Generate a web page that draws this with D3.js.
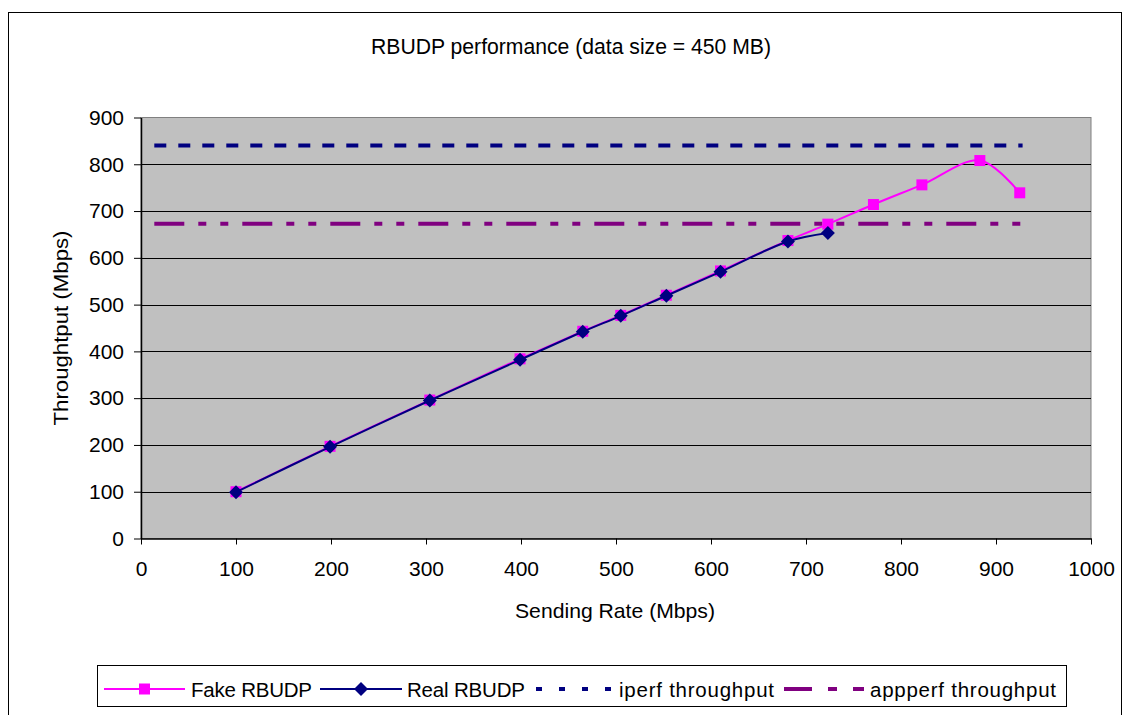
<!DOCTYPE html>
<html>
<head>
<meta charset="utf-8">
<script src="https://cdn.jsdelivr.net/npm/d3@7"></script>
<style>
  html, body { margin: 0; padding: 0; background: #fff; }
  svg { display: block; font-family: "Liberation Sans", Arial, sans-serif; }
</style>
</head>
<body>
<svg id="chart" width="1129" height="715"></svg>
<script>
// Sending rate (Mbps) for each measured run
const fakeRate = [100, 199, 304, 399, 465, 505, 553, 610, 681, 723, 771, 822, 883, 925];
const fakeThroughput = [100, 197, 296, 384, 443, 477, 520, 572, 637, 672, 714, 756, 808, 739];
const realRate = [100, 199, 304, 399, 465, 505, 553, 610, 681, 723];
const realThroughput = [99, 196, 295, 382, 442, 476, 519, 570, 635, 653];
// Reference throughput levels, drawn across the measured range
const refRate = [14, 928];
const iperfThroughput = [840, 840];
const appperfThroughput = [673, 673];

const xTicks = [0, 100, 200, 300, 400, 500, 600, 700, 800, 900, 1000];
const yTicks = [0, 100, 200, 300, 400, 500, 600, 700, 800, 900];

const svg = d3.select("#chart");
const plot = { left: 141, right: 1091, top: 117.5, bottom: 538.5 };
const FS = 21;

const x = d3.scaleLinear().domain([0, 1000]).range([plot.left, plot.right]);
const y = d3.scaleLinear().domain([0, 900]).range([plot.bottom, plot.top]);

// outer chart frame
svg.append("rect").attr("x", 8.5).attr("y", 12.5).attr("width", 1113).attr("height", 720)
  .attr("fill", "#fff").attr("stroke", "#000").attr("stroke-width", 1);

// title
svg.append("text").attr("x", 571).attr("y", 54).attr("text-anchor", "middle")
  .attr("font-size", 21.5).attr("textLength", 400).attr("lengthAdjust", "spacingAndGlyphs")
  .text("RBUDP performance (data size = 450 MB)");

// plot background
svg.append("rect").attr("x", plot.left).attr("y", plot.top)
  .attr("width", plot.right - plot.left).attr("height", plot.bottom - plot.top)
  .attr("fill", "#C0C0C0").attr("stroke", "#808080").attr("stroke-width", 1);

// horizontal gridlines
svg.append("g").selectAll("line").data(yTicks.filter(d => d > 0 && d < 900)).join("line")
  .attr("x1", plot.left).attr("x2", plot.right)
  .attr("y1", d => Math.round(y(d)) + 0.5).attr("y2", d => Math.round(y(d)) + 0.5)
  .attr("stroke", "#000").attr("stroke-width", 1);

// axes
const fmt = d3.format("d");
const xAxis = d3.axisBottom(x).tickValues(xTicks).tickFormat(fmt).tickSize(6).tickPadding(17).tickSizeOuter(0);
const yAxis = d3.axisLeft(y).tickValues(yTicks).tickFormat(fmt).tickSize(7).tickPadding(10).tickSizeOuter(0);

const gx = svg.append("g").attr("transform", `translate(0,${plot.bottom})`).call(xAxis);
const gy = svg.append("g").attr("transform", `translate(${plot.left},0)`).call(yAxis);
[gx, gy].forEach(g => {
  g.attr("font-family", null).attr("font-size", null);
  g.select(".domain").attr("stroke", "#000").attr("stroke-width", 1.5);
  g.selectAll(".tick line").attr("stroke", "#000");
  g.selectAll(".tick text").attr("font-size", FS).attr("fill", "#000");
});

// axis titles
svg.append("text").attr("x", 615).attr("y", 618).attr("text-anchor", "middle")
  .attr("font-size", FS).attr("fill", "#000").attr("textLength", 200).attr("lengthAdjust", "spacingAndGlyphs")
  .text("Sending Rate (Mbps)");
svg.append("text").attr("transform", "translate(68,328) rotate(-90)").attr("text-anchor", "middle")
  .attr("font-size", FS).attr("fill", "#000").attr("textLength", 195).attr("lengthAdjust", "spacingAndGlyphs")
  .text("Throughtput (Mbps)");

// reference levels
const flat = d3.line().x(d => x(d[0])).y(d => y(d[1]));
svg.append("path").datum(d3.zip(refRate, iperfThroughput)).attr("d", flat)
  .attr("fill", "none").attr("stroke", "#000080").attr("stroke-width", 4)
  .attr("stroke-dasharray", "12,12");
svg.append("path").datum(d3.zip(refRate, appperfThroughput)).attr("d", flat)
  .attr("fill", "none").attr("stroke", "#800080").attr("stroke-width", 4)
  .attr("stroke-dasharray", "30,14,8,14,8,14");

// smoothed series lines
const smooth = d3.line().x(d => x(d[0])).y(d => y(d[1])).curve(d3.curveCatmullRom.alpha(0.5));
const fake = d3.zip(fakeRate, fakeThroughput);
const real = d3.zip(realRate, realThroughput);

svg.append("path").datum(fake).attr("d", smooth)
  .attr("fill", "none").attr("stroke", "#FF00FF").attr("stroke-width", 2);
svg.selectAll(".fake-pt").data(fake).join("rect").attr("class", "fake-pt")
  .attr("x", d => x(d[0]) - 5.5).attr("y", d => y(d[1]) - 5.5)
  .attr("width", 11).attr("height", 11).attr("fill", "#FF00FF");

svg.append("path").datum(real).attr("d", smooth)
  .attr("fill", "none").attr("stroke", "#000080").attr("stroke-width", 2);
const diamond = "M0,-7L7,0L0,7L-7,0Z";
svg.selectAll(".real-pt").data(real).join("path").attr("class", "real-pt")
  .attr("transform", d => `translate(${x(d[0])},${y(d[1])})`)
  .attr("d", diamond).attr("fill", "#000080");

// legend
const lg = svg.append("g");
lg.append("rect").attr("x", 97.5).attr("y", 665.5).attr("width", 969).attr("height", 41)
  .attr("fill", "#fff").attr("stroke", "#000").attr("stroke-width", 1);
const ly = 689;
const legendItems = [
  { label: "Fake RBUDP", x0: 104, x1: 185, tx: 191, tw: 121, color: "#FF00FF", width: 2, dash: null, marker: "square" },
  { label: "Real RBUDP", x0: 320, x1: 402, tx: 407, tw: 118, color: "#000080", width: 2, dash: null, marker: "diamond" },
  { label: "iperf throughput", x0: 536, x1: 612, tx: 619, tw: 155, color: "#000080", width: 4, dash: "6,17", marker: null },
  { label: "appperf throughput", x0: 784, x1: 864, tx: 870, tw: 186, color: "#800080", width: 4, dash: "28,16,9,16,11,100", marker: null }
];
legendItems.forEach(it => {
  lg.append("line").attr("x1", it.x0).attr("x2", it.x1).attr("y1", ly).attr("y2", ly)
    .attr("stroke", it.color).attr("stroke-width", it.width)
    .attr("stroke-dasharray", it.dash);
  const mx = (it.x0 + it.x1) / 2;
  if (it.marker === "square") {
    lg.append("rect").attr("x", mx - 5.5).attr("y", ly - 5.5).attr("width", 11).attr("height", 11)
      .attr("fill", it.color);
  } else if (it.marker === "diamond") {
    lg.append("path").attr("transform", `translate(${mx},${ly})`).attr("d", diamond).attr("fill", it.color);
  }
  lg.append("text").attr("x", it.tx).attr("y", ly + 7.5).attr("font-size", 20.5)
    .attr("textLength", it.tw).attr("lengthAdjust", "spacing").text(it.label);
});
</script>
</body>
</html>
